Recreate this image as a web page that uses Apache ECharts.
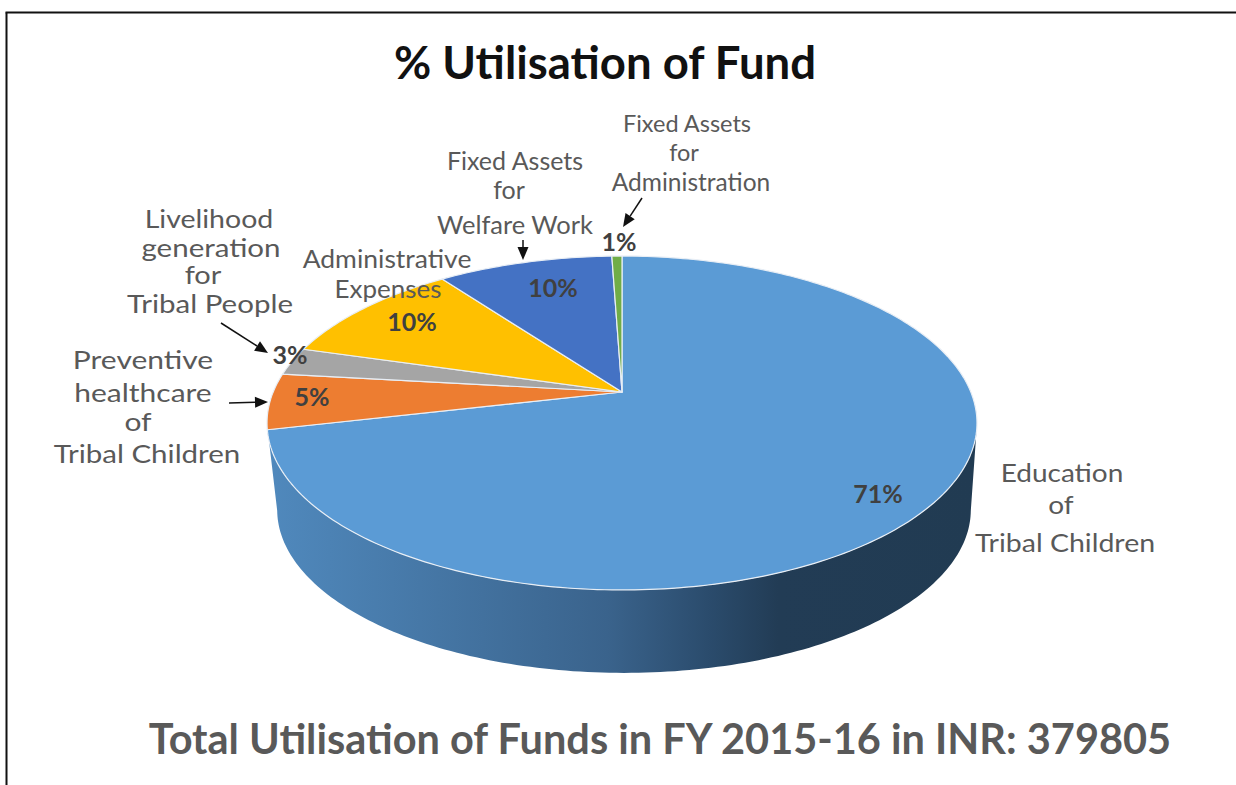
<!DOCTYPE html>
<html>
<head>
<meta charset="utf-8">
<title>% Utilisation of Fund</title>
<script src="https://cdn.jsdelivr.net/npm/echarts@6/dist/echarts.min.js"></script>
<style>
html, body { margin: 0; padding: 0; background: #fff; }
#main { width: 1236px; height: 785px; }
#main text { font-variant-ligatures: none; }
</style>
</head>
<body>
<div id="main"></div>
<script>
var titleText = '% Utilisation of Fund';
var footerText = 'Total Utilisation of Funds in FY 2015-16 in INR: 379805';
var categories = [
	'Education of Tribal Children',
	'Preventive healthcare of Tribal Children',
	'Livelihood generation for Tribal People',
	'Administrative Expenses',
	'Fixed Assets for Welfare Work',
	'Fixed Assets for Administration'
];
// shares, the labels are these rounded
var shares = [71.4, 5.4, 2.7, 10.4, 9.55, 0.55];
var colors = ['#5b9bd5', '#ed7d31', '#a5a5a5', '#ffc000', '#4472c4', '#70ad47'];

// label layout, one line per entry: text, centre x, centre y, width as a font size
var nameLines = [
	['Education', 1062, 473, 28], ['of', 1061, 505, 28], ['Tribal Children', 1065, 543, 28.5],
	['Preventive', 143, 359, 30], ['healthcare', 143, 392, 30], ['of', 138, 421, 30], ['Tribal Children', 147, 453, 29.5],
	['Livelihood', 209, 219, 28.5], ['generation', 211, 247, 29.5], ['for', 203, 274, 29], ['Tribal People', 210, 303, 29.5],
	['Administrative', 387, 258, 26.5], ['Expenses', 388, 288, 26],
	['Fixed Assets', 515, 160, 25], ['for', 509, 189, 25], ['Welfare Work', 515, 224, 25.5],
	['Fixed Assets', 687, 123, 23.5], ['for', 684, 152, 23.5], ['Administration', 691, 181, 24.5]
];
var nameFont = 25;
var pctPos = [[878, 493], [312, 396], [290, 354], [412, 321], [553, 287], [619, 241]];
var arrows = [
	[221, 323, 268, 353],
	[229, 403, 268, 402],
	[523, 240, 523, 260],
	[642, 198, 623, 227]
];

// pie projection: circle seen in perspective, tilted
var cx = 622, apexY = 392, a = 348.8, b = 161.2, k = 0.1857;
var depth = 87.5, baseScale = 0.977, baseShift = 2;
var wallFrom = 101, wallTo = 259;

function project(deg, scale, dy, dx) {
	var r = deg * Math.PI / 180;
	var u = Math.sin(r), v = -Math.cos(r), w = 1 - k * v;
	return [cx + dx + scale * a * u / w, apexY + dy + scale * b * v / w];
}
function arc(from, to, scale, dy, dx) {
	var pts = [], n = Math.max(2, Math.ceil(Math.abs(to - from)));
	for (var i = 0; i <= n; i++) {
		pts.push(project(from + (to - from) * i / n, scale, dy, dx));
	}
	return pts;
}

var total = shares.reduce(function(s, d) { return s + d; }, 0);
var startShare = [];
shares.reduce(function(s, d, i) { startShare[i] = s; return s + d; }, 0);

function renderSlice(params, api) {
	var i = params.dataIndex;
	var from = startShare[i] / total * 360;
	var to = from + api.value(1) / total * 360;
	var children = [];
	if (i === 0) {
		var wall = arc(wallFrom, wallTo, 1, 0, 0).concat(arc(wallTo, wallFrom, baseScale, depth, baseShift));
		children.push({
			type: 'polygon',
			shape: { points: wall },
			style: {
				fill: new echarts.graphic.LinearGradient(0, 0, 1, 0, [
					{ offset: 0, color: '#5089bd' },
					{ offset: 0.48, color: '#3a638c' },
					{ offset: 0.62, color: '#2b4c6d' },
					{ offset: 0.72, color: '#223c55' },
					{ offset: 1, color: '#213b52' }
				])
			}
		});
	}
	children.push({
		type: 'polygon',
		shape: { points: [[cx, apexY]].concat(arc(from, to, 1, 0, 0)) },
		style: { fill: colors[i], stroke: '#e8eef5', lineWidth: 1.2, lineJoin: 'round' }
	});
	return { type: 'group', children: children };
}

function renderPct(params, api) {
	var i = params.dataIndex;
	return {
		type: 'text',
		x: pctPos[i][0],
		y: pctPos[i][1],
		style: {
			text: Math.round(api.value(1)) + '%',
			fill: '#404040',
			font: 'bold 25px Lato',
			align: 'center',
			verticalAlign: 'middle'
		}
	};
}

var sliceData = shares.map(function(d, i) { return [i, d]; });

var graphics = [
	{ type: 'line', z: 100, shape: { x1: 6.5, y1: 785, x2: 6.5, y2: 12.5 }, style: { stroke: '#111', lineWidth: 2 } },
	{ type: 'line', z: 100, shape: { x1: 5.5, y1: 12.5, x2: 1236, y2: 12.5 }, style: { stroke: '#111', lineWidth: 2 } },
	{ type: 'text', z: 100, x: 605, y: 61, style: { text: titleText, fill: '#111', font: 'bold 45.5px Lato', align: 'center', verticalAlign: 'middle' } },
	{ type: 'text', z: 100, x: 660, y: 738, style: { text: footerText, fill: '#595959', font: 'bold 41.5px Lato', align: 'center', verticalAlign: 'middle' } }
];
nameLines.forEach(function(l) {
	graphics.push({
		type: 'text', z: 100, x: l[1], y: l[2],
		scaleX: l[3] / Math.min(l[3], nameFont),
		scaleY: 1,
		style: { text: l[0], fill: '#595959', font: Math.min(l[3], nameFont) + 'px Lato', align: 'center', verticalAlign: 'middle' }
	});
});
arrows.forEach(function(ar) {
	var ang = Math.atan2(ar[3] - ar[1], ar[2] - ar[0]);
	var len = 13, half = 5.5;
	var bx = ar[2] - len * Math.cos(ang), by = ar[3] - len * Math.sin(ang);
	graphics.push({ type: 'line', z: 100, shape: { x1: ar[0], y1: ar[1], x2: bx, y2: by }, style: { stroke: '#111', lineWidth: 1.5 } });
	graphics.push({
		type: 'polygon', z: 100,
		shape: { points: [
			[ar[2], ar[3]],
			[bx - half * Math.sin(ang), by + half * Math.cos(ang)],
			[bx + half * Math.sin(ang), by - half * Math.cos(ang)]
		] },
		style: { fill: '#111' }
	});
});

var myChart = echarts.init(document.getElementById('main'), null, { renderer: 'svg' });
var option = {
	backgroundColor: '#fff',
	animation: false,
	tooltip: {
		show: true,
		formatter: function(p) { return categories[p.dataIndex] + ': ' + p.value[1] + '%'; }
	},
	graphic: { elements: graphics, z: 100 },
	series: [{
		type: 'custom',
		name: 'slices',
		coordinateSystem: 'none',
		renderItem: renderSlice,
		data: sliceData,
		z: 2
	}, {
		type: 'custom',
		name: 'percent',
		coordinateSystem: 'none',
		silent: true,
		renderItem: renderPct,
		data: sliceData,
		z: 3
	}]
};
myChart.setOption(option);
window.onresize = myChart.resize;
</script>
</body>
</html>
